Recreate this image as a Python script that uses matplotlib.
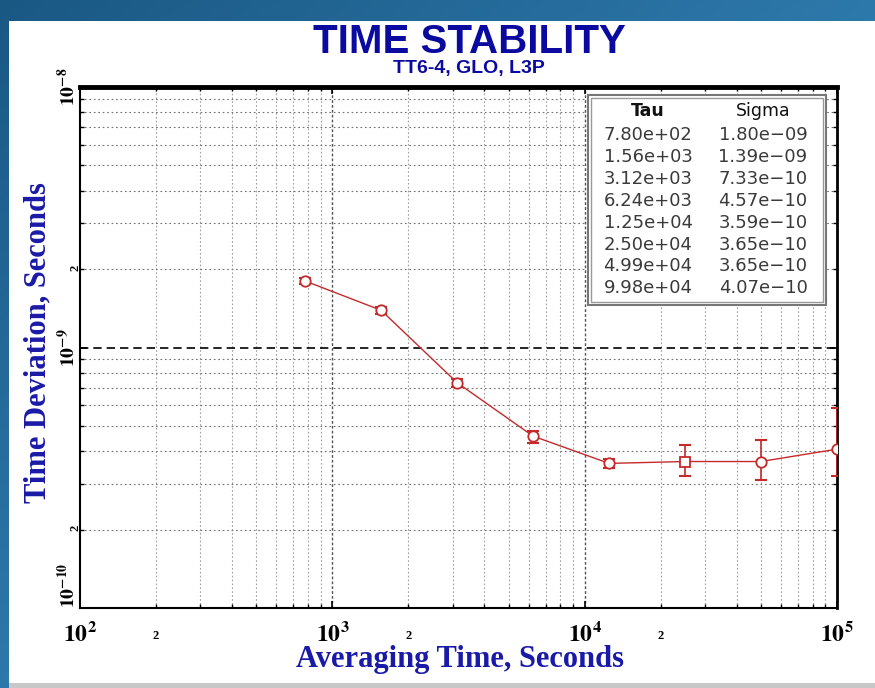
import numpy as np
import matplotlib
matplotlib.use('Agg')
import matplotlib.pyplot as plt
from matplotlib.patches import Rectangle
from matplotlib.ticker import FixedLocator, FuncFormatter

plt.rcParams['mathtext.fontset'] = 'stix'

# ---------------- data ----------------
tau = [7.80e2, 1.56e3, 3.12e3, 6.24e3, 1.25e4, 2.50e4, 4.99e4, 9.98e4]
sigma = [1.80e-9, 1.39e-9, 7.33e-10, 4.57e-10, 3.59e-10, 3.65e-10, 3.65e-10, 4.07e-10]
sigma_lo = [1.75e-9, 1.35e-9, 7.08e-10, 4.31e-10, 3.45e-10, 3.20e-10, 3.10e-10, 3.22e-10]
sigma_hi = [1.85e-9, 1.43e-9, 7.60e-10, 4.80e-10, 3.74e-10, 4.23e-10, 4.43e-10, 5.88e-10]
point_markers = ['o', 'o', 'o', 'o', 'o', 's', 'o', 'o']

tau_labels = ['7.80e+02', '1.56e+03', '3.12e+03', '6.24e+03',
              '1.25e+04', '2.50e+04', '4.99e+04', '9.98e+04']
sigma_labels = ['1.80e-09', '1.39e-09', '7.33e-10', '4.57e-10',
                '3.59e-10', '3.65e-10', '3.65e-10', '4.07e-10']

x_major = [1e2, 1e3, 1e4, 1e5]
x_major_labels = [r'$\mathbf{10^{2}}$', r'$\mathbf{10^{3}}$', r'$\mathbf{10^{4}}$', r'$\mathbf{10^{5}}$']
y_major = [1e-10, 1e-9, 1e-8]
y_major_labels = [r'$\mathbf{10^{-10}}$', r'$\mathbf{10^{-9}}$', r'$\mathbf{10^{-8}}$']

title = 'TIME STABILITY'
subtitle = 'TT6-4, GLO, L3P'
xlabel = 'Averaging Time, Seconds'
ylabel = 'Time Deviation, Seconds'

W, H = 875, 688
fig = plt.figure(figsize=(W / 100, H / 100), dpi=100)
fig.patch.set_facecolor('white')

# ---------------- background frame (blue gradient) ----------------
bg = fig.add_axes([0, 0, 1, 1], zorder=-10)
gx = np.linspace(0, 1, 200)
gy = np.linspace(0, 1, 200)
GX, GY = np.meshgrid(gx, gy)
c0 = np.array([0x1a, 0x58, 0x84]) / 255
c1 = np.array([0x3a, 0x8e, 0xc4]) / 255
t = np.clip(0.6 * GX + 0.6 * GY, 0, 1)[..., None]
img = c0 * (1 - t) + c1 * t
bg.imshow(img, extent=[0, 1, 0, 1], aspect='auto', origin='upper')
bg.add_patch(Rectangle((9 / W, 5 / H), 1 - 9 / W, 1 - 5 / H - 21 / H,
                       facecolor='white', edgecolor='none'))
bg.add_patch(Rectangle((9 / W, 0), 1 - 9 / W, 5 / H, facecolor='#c8c8c8', edgecolor='none'))
bg.set_xlim(0, 1)
bg.set_ylim(0, 1)
bg.axis('off')

# ---------------- main axes ----------------
L, R, T, B = 80, 837, 87, 608
ax = fig.add_axes([L / W, (H - B) / H, (R - L) / W, (B - T) / H])
ax.set_xscale('log')
ax.set_yscale('log')
ax.set_xlim(1e2, 1e5)
ax.set_ylim(1e-10, 1e-8)

xminor = [m * 10 ** e for e in range(2, 5) for m in range(2, 10)]
yminor = [m * 10 ** e for e in range(-10, -8) for m in range(2, 10)]
ax.xaxis.set_major_locator(FixedLocator(x_major))
ax.xaxis.set_minor_locator(FixedLocator(xminor))
ax.yaxis.set_major_locator(FixedLocator(y_major))
ax.yaxis.set_minor_locator(FixedLocator(yminor))

for v in xminor:
    ax.axvline(v, color='#a0a0a0', lw=0.8, ls=(0, (1.5, 2)), zorder=1)
for v in [1e3, 1e4]:
    ax.axvline(v, color='#555555', lw=1.0, ls=(0, (2, 1.5)), zorder=1)
for v in yminor:
    ax.axhline(v, color='#707070', lw=0.8, ls=(0, (1.5, 2.5)), zorder=1)
ax.axhline(1e-9, color='black', lw=1.2, ls=(0, (5, 3)), zorder=1)

red = '#c42a2a'
ax.plot(tau, sigma, color=red, lw=1.0, zorder=3)
yerr = [np.array(sigma) - np.array(sigma_lo), np.array(sigma_hi) - np.array(sigma)]
ax.errorbar(tau, sigma, yerr=yerr, fmt='none', ecolor=red, elinewidth=1.2,
            capsize=4, capthick=1.5, zorder=4)
for x, y, m in zip(tau, sigma, point_markers):
    ax.plot([x], [y], marker=m, ms=7.5, mfc='white', mec=red, mew=1.3, ls='none', zorder=5)

# ticks
def two_only(v, p):
    return '2' if abs(v / 10 ** np.floor(np.log10(v) + 1e-9) - 2) < 1e-6 else ''

ax.set_xticklabels(x_major_labels)
ax.xaxis.set_minor_formatter(FuncFormatter(two_only))
ax.set_yticklabels(y_major_labels)
ax.yaxis.set_minor_formatter(FuncFormatter(two_only))

ax.tick_params(which='both', direction='in', top=True, right=True, color='black')
ax.tick_params(which='major', length=5, width=1.2)
ax.tick_params(which='minor', length=3, width=1.0)
ax.tick_params(axis='x', which='major', labelsize=17, pad=10)
ax.tick_params(axis='x', which='minor', labelsize=9, pad=16)
ax.tick_params(axis='y', which='major', labelsize=14, pad=1, labelrotation=90)
ax.tick_params(axis='y', which='minor', labelsize=9, pad=-1, labelrotation=90)
for lab in ax.get_xticklabels(which='minor') + ax.get_yticklabels(which='minor'):
    lab.set_fontweight('bold')
    lab.set_family('Liberation Serif')
ylabs = ax.get_yticklabels()
for lab in ylabs:
    lab.set_va('center')
ylabs[0].set_va('bottom')

for s, lw in [('left', 1.5), ('bottom', 1.5), ('right', 2.0), ('top', 3.5)]:
    ax.spines[s].set_linewidth(lw)
    ax.spines[s].set_color('black')

# ---------------- stats box ----------------
bx0, by0, bx1, by1 = 588, 95, 826, 305
fig.add_artist(Rectangle((bx0 / W, (H - by1) / H), (bx1 - bx0) / W, (by1 - by0) / H,
                         transform=fig.transFigure, facecolor='white',
                         edgecolor='#777777', lw=1.5, zorder=6))
fig.add_artist(Rectangle(((bx0 + 3) / W, (H - by1 + 3) / H), (bx1 - bx0 - 6) / W,
                         (by1 - by0 - 6) / H, transform=fig.transFigure,
                         facecolor='none', edgecolor='#999999', lw=1.0, zorder=7))
cx_tau, cx_sig = 648, 763
fig.text(cx_tau / W, 1 - 111 / H, 'Tau', ha='center', va='center', fontsize=12.5,
         fontweight='bold', color='#111111', zorder=8)
fig.text(cx_sig / W, 1 - 111 / H, 'Sigma', ha='center', va='center', fontsize=12.5,
         color='#111111', zorder=8)
for i, (a, b) in enumerate(zip(tau_labels, sigma_labels)):
    yy = 135 + i * 21.9
    fig.text(cx_tau / W, 1 - yy / H, a, ha='center', va='center', fontsize=13,
             color='#3a3a3a', zorder=8)
    fig.text(cx_sig / W, 1 - yy / H, b.replace('-', '\u2212'), ha='center', va='center',
             fontsize=13, color='#3a3a3a', zorder=8)

# ---------------- titles ----------------
fig.text(469 / W, 1 - 42 / H, title, ha='center', va='center', fontsize=29,
         fontweight='bold', color='#0a0aa0',
         family=['Liberation Sans Narrow', 'Liberation Sans'])
fig.text(469 / W, 1 - 69 / H, subtitle, ha='center', va='center', fontsize=14,
         fontweight='bold', color='#0a0aa0',
         family=['Liberation Sans Narrow', 'Liberation Sans'])
fig.text(460 / W, 1 - 660 / H, xlabel, ha='center', va='center', fontsize=22,
         color='#1a1aa8', family='Liberation Serif', fontweight='bold')
fig.text(38 / W, 1 - 343 / H, ylabel, ha='center', va='center', fontsize=22,
         color='#1a1aa8', family='Liberation Serif', fontweight='bold', rotation=90)

fig.savefig('out.png', dpi=100, facecolor=fig.get_facecolor())
